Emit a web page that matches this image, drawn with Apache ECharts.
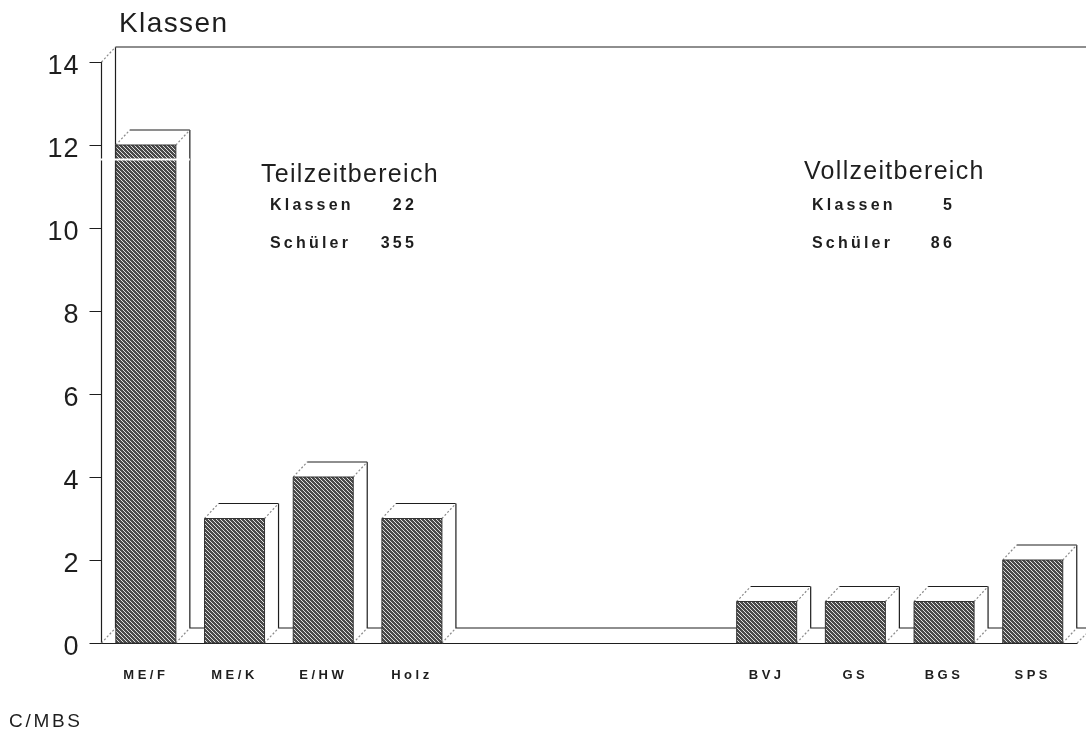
<!DOCTYPE html>
<html>
<head>
<meta charset="utf-8">
<title>Klassen</title>
<style>
    html, body { margin: 0; padding: 0; background: #fff; }
    #chart { width: 1086px; height: 735px; }
</style>
<script src="https://cdn.jsdelivr.net/npm/echarts@6/dist/echarts.min.js"></script>
</head>
<body>
<div id="chart"></div>
<script>
const categories = ['ME/F', 'ME/K', 'E/HW', 'Holz', '', '', '', 'BVJ', 'GS', 'BGS', 'SPS'];
const klassen = [12, 3, 4, 3, null, null, null, 1, 1, 1, 2];
const yTicks = { min: 0, max: 14, interval: 2 };

const teilzeit = { title: 'Teilzeitbereich', klassen: '22', schueler: '355' };
const vollzeit = { title: 'Vollzeitbereich', klassen: '5', schueler: '86' };

const FONT = '"Liberation Sans", sans-serif';
const INK = '#1e1e1e';
const FAINT = '#8a8a8a';
const DEPTH_X = 14;
const DEPTH_Y = 15;
const BAR_WIDTH = 60;

// the print has wide tracking, echarts has no option for it: px per font size
const TRACKING = { 13: 3.5, 16: 3.2, 19: 2.7, 25: 1.3, 27: 1, 28: 1.4 };
const fillTextPlain = CanvasRenderingContext2D.prototype.fillText;
CanvasRenderingContext2D.prototype.fillText = function (...args) {
    const size = parseInt(this.font.match(/(\d+)px/)[1], 10);
    this.letterSpacing = (TRACKING[size] || 0) + 'px';
    fillTextPlain.apply(this, args);
};

// dense diagonal hatch like the scanned print
const hatch = document.createElement('canvas');
hatch.width = 4;
hatch.height = 4;
const hctx = hatch.getContext('2d');
hctx.fillStyle = '#4a4a4a';
hctx.fillRect(0, 0, 4, 4);
hctx.fillStyle = '#e0e0e0';
[[0, 3], [1, 0], [2, 1], [3, 2]].forEach(([x, y]) => hctx.fillRect(x, y, 1, 1));

const seg = (x1, y1, x2, y2, stroke) => ({
    type: 'line',
    shape: { x1, y1, x2, y2 },
    style: { stroke, lineWidth: stroke === '#fff' ? 2 : 1.2, lineDash: stroke === FAINT ? [2, 2] : null }
});

const renderWall = (params, api) => {
    const cs = params.coordSys;
    const bottom = cs.y + cs.height;
    const backX = cs.x + DEPTH_X;
    const backTop = cs.y - DEPTH_Y;
    const backBottom = bottom - DEPTH_Y;
    return {
        type: 'group',
        children: [
            seg(backX, backTop, 1086, backTop, INK),
            seg(backX, backTop, backX, backBottom, INK),
            seg(backX, backBottom, 1086, backBottom, INK),
            seg(cs.x, cs.y, backX, backTop, FAINT),
            seg(cs.x, bottom, backX, backBottom, FAINT),
            seg(cs.x + cs.width, bottom, cs.x + cs.width + 9, bottom - 9, FAINT)
        ]
    };
};

const renderBox = (params, api) => {
    const top = api.coord([api.value(0), api.value(1)]);
    const base = api.coord([api.value(0), 0]);
    const x0 = top[0] - BAR_WIDTH / 2;
    const x1 = top[0] + BAR_WIDTH / 2;
    const yT = top[1];
    const yB = base[1];
    const dx = DEPTH_X;
    const dy = DEPTH_Y;
    return {
        type: 'group',
        children: [
            {
                type: 'polygon',
                shape: { points: [[x0, yT], [x0 + dx, yT - dy], [x1 + dx, yT - dy], [x1 + dx, yB - dy], [x1, yB], [x1, yT]] },
                style: { fill: '#fff', stroke: null }
            },
            seg(x0 + dx, yT - dy, x1 + dx, yT - dy, INK),
            seg(x1 + dx, yT - dy, x1 + dx, yB - dy, INK),
            seg(x0, yT, x0 + dx, yT - dy, FAINT),
            seg(x1, yT, x1 + dx, yT - dy, FAINT),
            seg(x1, yB, x1 + dx, yB - dy, FAINT),
            {
                type: 'rect',
                shape: { x: x0, y: yT, width: BAR_WIDTH, height: yB - yT },
                style: { fill: { image: hatch, repeat: 'repeat' }, stroke: '#333', lineWidth: 1 }
            }
        ]
    };
};

// the white scan streak across the first bar
const renderStreak = (params, api) => {
    const p = api.coord([api.value(0), api.value(1)]);
    return seg(params.coordSys.x - 1, p[1], p[0] + BAR_WIDTH / 2 + DEPTH_X, p[1], '#fff');
};

const label = (text, x, y, fontSize, fontWeight, textAlign) => ({
    type: 'text',
    x,
    y,
    style: {
        text,
        fontSize,
        fontWeight: fontWeight || 'normal',
        fontFamily: FONT,
        fill: INK,
        textAlign: textAlign || 'left',
        textVerticalAlign: 'middle'
    }
});

const blockLabels = (block, titleX, titleY, nameX, valueRight) => [
    label(block.title, titleX, titleY, 25),
    label('Klassen', nameX, 206, 16, 'bold'),
    label('Schüler', nameX, 244, 16, 'bold'),
    label(block.klassen, valueRight, 206, 16, 'bold', 'right'),
    label(block.schueler, valueRight, 244, 16, 'bold', 'right')
];

const chart = echarts.init(document.getElementById('chart'));

const option = {
    backgroundColor: '#fff',
    animation: false,
    title: {
        text: 'Klassen',
        left: 114,
        top: 5,
        textStyle: { fontSize: 28, fontWeight: 'normal', fontFamily: FONT, color: INK }
    },
    grid: { left: 101.5, right: 8.9, top: 62, bottom: 92, containLabel: false },
    xAxis: {
        type: 'category',
        data: categories,
        axisLine: { lineStyle: { color: INK, width: 1.2 } },
        axisTick: { alignWithLabel: true, length: 11, lineStyle: { color: '#555' } },
        axisLabel: { interval: 0, margin: 26, fontSize: 13, fontWeight: 'bold', fontFamily: FONT, color: INK }
    },
    yAxis: {
        type: 'value',
        min: yTicks.min,
        max: yTicks.max,
        interval: yTicks.interval,
        splitLine: { show: false },
        axisLine: { show: true, lineStyle: { color: INK, width: 1.2 } },
        axisTick: { show: true, length: 12, lineStyle: { color: INK } },
        axisLabel: { margin: 22, fontSize: 27, fontFamily: FONT, color: INK, verticalAlign: 'top', lineHeight: 10 }
    },
    series: [
        {
            type: 'custom',
            name: 'Wand',
            clip: false,
            silent: true,
            z: 1,
            renderItem: renderWall,
            data: [[0, 0]]
        },
        {
            type: 'custom',
            name: 'Klassen',
            clip: false,
            z: 2,
            renderItem: renderBox,
            encode: { x: 0, y: 1 },
            data: klassen.map((v, i) => [i, v]).filter((d) => d[1] !== null)
        },
        {
            type: 'custom',
            name: 'Streifen',
            clip: false,
            silent: true,
            z: 6,
            renderItem: renderStreak,
            data: [[0, 11.65]]
        }
    ],
    graphic: {
        elements: [
            ...blockLabels(teilzeit, 261, 175, 270, 417),
            ...blockLabels(vollzeit, 804, 172, 812, 955),
            label('C/MBS', 9, 722, 19)
        ]
    }
};

chart.setOption(option);
</script>
</body>
</html>
